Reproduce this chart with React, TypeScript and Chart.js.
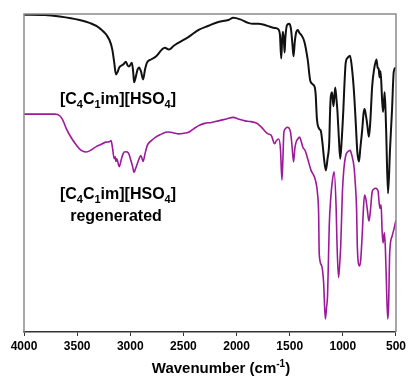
import React, { useEffect, useRef } from "react";
import { Chart, registerables } from "chart.js";

Chart.register(...registerables);

// Tick marks on the wavenumber axis
const xTicks = [4000, 3500, 3000, 2500, 2000, 1500, 1000, 500];

// [C4C1im][HSO4] spectrum (transmittance, arbitrary offset units)
const ilWavenumbers = [
  4000, 3804, 3664, 3477, 3384, 3291, 3197, 3169, 3151, 3135, 3118, 3104, 3067, 3041, 3025, 3011, 2985, 2973, 2964, 2945,
  2931, 2917, 2899, 2880, 2861, 2843, 2805, 2759, 2703, 2675, 2637, 2591, 2544, 2451, 2357, 2264, 2171, 2077, 2031, 1965,
  1891, 1844, 1797, 1741, 1685, 1639, 1611, 1592, 1580, 1571, 1564, 1555, 1548, 1541, 1524, 1502, 1487, 1474, 1464, 1452,
  1440, 1424, 1410, 1393, 1362, 1331, 1305, 1268, 1256, 1244, 1222, 1207, 1191, 1177, 1160, 1144, 1128, 1121, 1114, 1102,
  1088, 1072, 1060, 1051, 1037, 1025, 1013, 995, 985, 973, 953, 932, 915, 895, 878, 864, 848, 836, 817, 806,
  796, 785, 771, 755, 743, 724, 706, 684, 673, 662, 655, 645, 631, 622, 612, 606, 593, 575, 556, 537,
  521, 500,
];
const ilValues = [
  99.8, 99.7, 99.2, 98.1, 97.2, 95.6, 91.9, 88.8, 84.7, 81.0, 81.9, 83.2, 84.1, 85.0, 83.8, 83.5, 84.7, 81.9, 78.5, 80.7,
  82.6, 83.2, 81.9, 79.4, 82.6, 84.7, 85.7, 86.6, 88.8, 89.4, 88.8, 90.0, 91.0, 92.8, 95.0, 96.3, 97.5, 98.1, 98.8, 98.3,
  97.2, 96.9, 96.9, 96.6, 96.0, 95.6, 95.3, 93.5, 86.0, 91.9, 94.4, 91.9, 87.9, 92.5, 96.6, 96.9, 95.0, 90.3, 86.7, 91.3,
  94.1, 95.0, 94.1, 93.5, 91.3, 85.7, 78.8, 77.3, 74.8, 67.0, 63.9, 63.2, 59.2, 54.5, 50.8, 54.5, 59.8, 68.5, 73.8, 75.4,
  71.0, 76.9, 73.2, 69.5, 60.7, 54.5, 59.2, 70.1, 77.9, 84.7, 86.3, 86.9, 83.2, 75.4, 65.4, 56.7, 53.6, 57.6, 63.9, 68.5,
  70.1, 68.5, 65.4, 61.4, 65.4, 77.3, 82.6, 85.7, 83.2, 82.6, 80.1, 82.0, 73.2, 69.2, 73.2, 75.4, 63.9, 43.6, 57.6, 70.1,
  81.9, 83.2,
];

// [C4C1im][HSO4] regenerated spectrum
const regenWavenumbers = [
  4000, 3711, 3664, 3636, 3601, 3561, 3508, 3468, 3415, 3365, 3321, 3281, 3228, 3197, 3181, 3169, 3151, 3141, 3135, 3127,
  3104, 3085, 3067, 3048, 3027, 3011, 2995, 2978, 2964, 2950, 2933, 2917, 2901, 2889, 2880, 2861, 2840, 2805, 2761, 2721,
  2668, 2637, 2591, 2544, 2497, 2451, 2404, 2357, 2301, 2236, 2171, 2096, 2031, 1984, 1922, 1872, 1828, 1797, 1769, 1735,
  1704, 1673, 1642, 1627, 1604, 1587, 1573, 1564, 1555, 1541, 1524, 1508, 1492, 1480, 1464, 1452, 1440, 1424, 1408, 1393,
  1377, 1354, 1331, 1300, 1268, 1251, 1237, 1228, 1222, 1200, 1181, 1165, 1153, 1144, 1135, 1128, 1114, 1098, 1082, 1063,
  1056, 1041, 1032, 1020, 1004, 990, 973, 953, 932, 915, 895, 883, 871, 864, 843, 832, 817, 806, 796, 785,
  771, 755, 743, 724, 710, 693, 677, 668, 652, 640, 631, 622, 609, 600, 591, 578, 570, 559, 537, 521,
  506, 500,
];
const regenValues = [
  68.5, 68.5, 68.0, 66.7, 63.9, 61.4, 58.8, 57.3, 56.6, 57.3, 58.3, 58.9, 59.7, 59.8, 60.2, 58.3, 54.5, 55.1, 53.6, 54.5,
  52.0, 54.2, 56.1, 56.7, 56.6, 55.8, 54.0, 52.0, 50.2, 51.4, 53.0, 54.5, 55.5, 54.5, 53.6, 56.1, 58.7, 60.1, 61.3, 62.0,
  62.8, 62.9, 62.6, 62.3, 62.5, 62.8, 63.9, 64.9, 65.6, 65.9, 66.4, 67.0, 67.5, 67.0, 66.4, 66.2, 65.9, 65.4, 64.5, 63.2,
  62.3, 61.8, 59.2, 60.1, 60.7, 57.6, 47.8, 54.5, 62.8, 63.9, 64.4, 64.2, 62.8, 59.2, 53.5, 57.6, 59.7, 60.7, 61.3, 60.1,
  58.2, 57.0, 54.5, 50.9, 48.8, 46.7, 43.1, 37.4, 24.4, 20.9, 15.6, 4.1, 7.8, 11.5, 23.4, 33.3, 42.1, 47.7, 50.4, 38.9,
  29.1, 17.1, 20.2, 27.1, 44.2, 51.4, 55.5, 56.7, 57.1, 55.5, 51.9, 46.7, 38.9, 27.0, 20.8, 22.7, 31.2, 38.9, 43.1, 42.1,
  38.9, 34.9, 37.4, 44.1, 44.9, 45.2, 44.9, 44.2, 38.9, 40.0, 32.2, 28.0, 31.2, 26.5, 16.6, 4.1, 7.8, 24.9, 30.1, 32.1,
  34.3, 35.2,
];

const FONT = "'Liberation Sans', Arial, Helvetica, sans-serif";

type Seg = { t: string; sub?: boolean; sup?: boolean };

function drawRich(ctx: CanvasRenderingContext2D, segs: Seg[], cx: number, baseline: number, size: number, color: string) {
  const small = Math.round(size * 0.68);
  const widths = segs.map((s) => {
    ctx.font = `bold ${s.sub || s.sup ? small : size}px ${FONT}`;
    return ctx.measureText(s.t).width;
  });
  const total = widths.reduce((a, b) => a + b, 0);
  let x = cx - total / 2;
  ctx.fillStyle = color;
  ctx.textBaseline = "alphabetic";
  ctx.textAlign = "left";
  segs.forEach((s, i) => {
    ctx.font = `bold ${s.sub || s.sup ? small : size}px ${FONT}`;
    const dy = s.sub ? size * 0.28 : s.sup ? -size * 0.4 : 0;
    ctx.fillText(s.t, x, baseline + dy);
    x += widths[i];
  });
}

const ilLabel: Seg[] = [
  { t: "[C" }, { t: "4", sub: true }, { t: "C" }, { t: "1", sub: true }, { t: "im][HSO" }, { t: "4", sub: true }, { t: "]" },
];

const annotationPlugin = {
  id: "annotations",
  afterDraw(chart: any) {
    const ctx = chart.ctx as CanvasRenderingContext2D;
    const a = chart.chartArea;
    ctx.save();
    // frame (left, top, right)
    ctx.strokeStyle = "#8a8a8a";
    ctx.lineWidth = 1.5;
    ctx.beginPath();
    ctx.moveTo(a.left, a.bottom);
    ctx.lineTo(a.left, a.top);
    ctx.lineTo(a.right, a.top);
    ctx.lineTo(a.right, a.bottom);
    ctx.stroke();

    drawRich(ctx, ilLabel, 118, 104, 16, "#000");
    drawRich(ctx, ilLabel, 118, 199, 16, "#000");
    drawRich(ctx, [{ t: "regenerated" }], 116, 221, 16, "#000");
    drawRich(
      ctx,
      [{ t: "Wavenumber (cm" }, { t: "-1", sup: true }, { t: ")" }],
      221,
      373,
      15,
      "#000"
    );
    ctx.restore();
  },
};

export default function App() {
  const ref = useRef<HTMLCanvasElement | null>(null);
  useEffect(() => {
    if (!ref.current) return;
    const chart = new Chart(ref.current, {
      type: "line",
      data: {
        datasets: [
          {
            label: "[C4C1im][HSO4]",
            data: ilWavenumbers.map((w, i) => ({ x: w, y: ilValues[i] })),
            borderColor: "#111111",
            borderWidth: 2,
            pointRadius: 0,
            cubicInterpolationMode: "monotone",
            fill: false,
          },
          {
            label: "[C4C1im][HSO4] regenerated",
            data: regenWavenumbers.map((w, i) => ({ x: w, y: regenValues[i] })),
            borderColor: "#9c1a9a",
            borderWidth: 1.6,
            pointRadius: 0,
            cubicInterpolationMode: "monotone",
            fill: false,
          },
        ],
      },
      options: {
        animation: false,
        responsive: false,
        devicePixelRatio: 1,
        layout: { padding: { left: 24, right: 10, top: 14, bottom: 23.6 } },
        plugins: { legend: { display: false }, tooltip: { enabled: false }, title: { display: false } },
        scales: {
          x: {
            type: "linear",
            reverse: true,
            min: 500,
            max: 4000,
            afterBuildTicks: (scale: any) => {
              scale.ticks = xTicks.map((v) => ({ value: v }));
            },
            ticks: {
              color: "#000",
              font: { family: FONT, size: 12, weight: "bold" },
              padding: 3,
              maxRotation: 0,
              autoSkip: false,
              callback: (v: any) => String(v),
            },
            grid: { drawOnChartArea: false, drawTicks: true, tickLength: 4, color: "#333", lineWidth: 1 },
            border: { display: true, color: "#333", width: 1.5 },
            title: { display: false },
          },
          y: { display: false, min: 0, max: 100 },
        },
      },
      plugins: [annotationPlugin],
    } as any);
    return () => chart.destroy();
  }, []);
  return (
    <div style={{ position: "fixed", left: 0, top: 0, width: 409, height: 380, background: "#fff" }}>
      <canvas ref={ref} width={409} height={380} style={{ display: "block" }} />
    </div>
  );
}
